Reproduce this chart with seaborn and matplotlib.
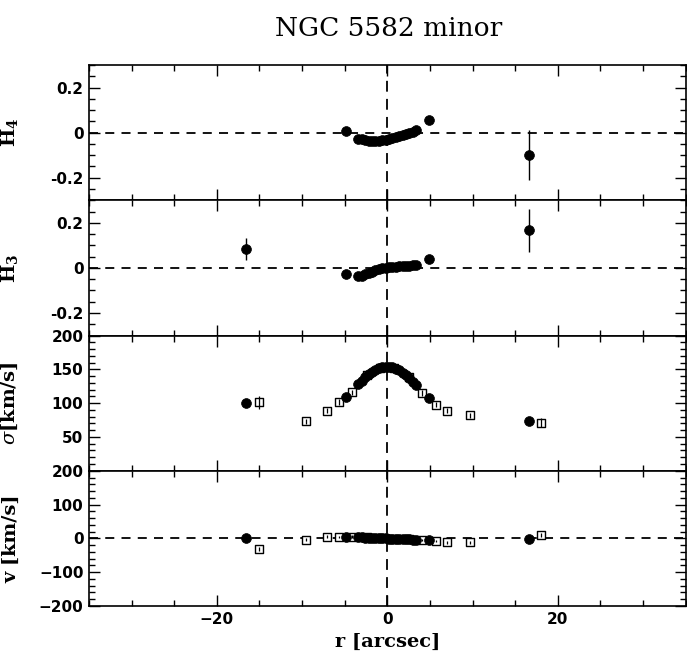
import numpy as np
import pandas as pd
import matplotlib
matplotlib.use("Agg")
import matplotlib.pyplot as plt
from matplotlib.ticker import MultipleLocator, FixedLocator
import seaborn as sns

# Radial positions (arcsec) of the filled-circle (absorption) measurements
r_circ = [-16.6, -4.9, -3.4, -3.0, -2.6, -2.2, -1.8, -1.4, -1.0, -0.6, -0.2,
          0.2, 0.6, 1.0, 1.4, 1.8, 2.2, 2.6, 3.0, 3.4, 4.9, 16.6]
h4_circ = [np.nan, 0.006, -0.027, -0.030, -0.033, -0.035, -0.036, -0.036, -0.035,
           -0.033, -0.031, -0.028, -0.025, -0.021, -0.017, -0.012, -0.007, -0.002,
           0.004, 0.012, 0.055, -0.10]
h4_err = [0, 0.005, 0.004, 0.004, 0.004, 0.004, 0.004, 0.004, 0.004, 0.004, 0.004,
          0.004, 0.004, 0.004, 0.004, 0.004, 0.004, 0.004, 0.004, 0.004, 0.006, 0.11]
h3_circ = [0.083, -0.029, -0.038, -0.034, -0.029, -0.023, -0.017, -0.011, -0.006,
           -0.002, 0.001, 0.003, 0.005, 0.006, 0.007, 0.008, 0.009, 0.010, 0.011,
           0.013, 0.041, 0.167]
h3_err = [0.05, 0.005, 0.004, 0.004, 0.004, 0.004, 0.004, 0.004, 0.004, 0.004, 0.004,
          0.004, 0.004, 0.004, 0.004, 0.004, 0.004, 0.004, 0.004, 0.004, 0.006, 0.095]
sig_circ = [100.5, 108.5, 128, 133, 138, 142.5, 146, 149, 151.5, 153, 154,
            154, 153, 151, 148.5, 145, 141, 137, 132, 127, 107.5, 73]
sig_err = [3, 2, 2, 2, 2, 2, 2, 2, 2, 2, 2, 2, 2, 2, 2, 2, 2, 2, 2, 2, 2, 4]
v_circ = [0, 4, 3, 3, 2, 2, 1, 1, 0, 0, 0, -1, -1, -1, -2, -2, -3, -3, -4, -4, -6, -3]
v_err = [3, 2, 2, 2, 2, 2, 2, 2, 2, 2, 2, 2, 2, 2, 2, 2, 2, 2, 2, 2, 2, 4]

# Radial positions (arcsec) of the open-square measurements
r_sq = [-15.0, -9.5, -7.1, -5.7, -4.1, -2.4, -0.9, 0.8, 2.5, 4.1, 5.7, 7.0, 9.7, 18.0]
sig_sq = [101, 73, 89, 102, 116, 141, 152, 152, 138, 115, 98, 89, 82, 71]
sig_sq_err = [10, 4, 4, 4, 4, 4, 4, 4, 4, 4, 4, 4, 4, 7]
v_sq = [-30, -4, 5, 4, 5, 3, 1, -1, -3, -5, -8, -12, -12, 11]
v_sq_err = [6, 4, 4, 4, 4, 4, 4, 4, 4, 4, 4, 4, 4, 6]

title_text = "NGC 5582 minor"

circ = pd.DataFrame({"r": r_circ, "h4": h4_circ, "h4e": h4_err, "h3": h3_circ,
                     "h3e": h3_err, "sig": sig_circ, "sige": sig_err,
                     "v": v_circ, "ve": v_err})
sq = pd.DataFrame({"r": r_sq, "sig": sig_sq, "sige": sig_sq_err,
                   "v": v_sq, "ve": v_sq_err})

sns.set_style("ticks")
plt.rcParams["font.family"] = ["DejaVu Sans"]
plt.rcParams["mathtext.fontset"] = "dejavuserif"
for key in ("text.color", "axes.labelcolor", "xtick.color", "ytick.color",
            "axes.edgecolor"):
    plt.rcParams[key] = "black"

fig, axes = plt.subplots(4, 1, figsize=(6.87, 6.57), dpi=100, sharex=True)
fig.subplots_adjust(left=0.1295, right=0.998, top=0.901, bottom=0.0776, hspace=0)

dash = (0, (5, 4))
label_font = dict(family="DejaVu Serif", fontsize=14, fontweight="bold")


def draw_circles(ax, col, ecol):
    d = circ.dropna(subset=[col])
    ax.errorbar(d["r"], d[col], yerr=d[ecol], fmt="none", ecolor="black",
                elinewidth=1.0, capsize=0, zorder=6)
    sns.scatterplot(data=d, x="r", y=col, ax=ax, marker="o", s=50,
                    color="black", edgecolor="black", linewidth=0.5, zorder=7,
                    legend=False)


def draw_squares(ax, col, ecol):
    sns.scatterplot(data=sq, x="r", y=col, ax=ax, marker="s", s=26,
                    facecolor="white", edgecolor="black", linewidth=1.0,
                    zorder=4, legend=False)
    ax.errorbar(sq["r"], sq[col], yerr=sq[ecol], fmt="none", ecolor="black",
                elinewidth=0.9, capsize=0, zorder=5)


# H4 panel
ax = axes[0]
draw_circles(ax, "h4", "h4e")
ax.set_ylim(-0.3, 0.3)
ax.yaxis.set_major_locator(FixedLocator([-0.2, 0, 0.2]))
ax.yaxis.set_minor_locator(MultipleLocator(0.05))
ax.set_yticklabels(["-0.2", "0", "0.2"])
ax.axhline(0, color="black", lw=1.3, ls=dash, zorder=2)
ax.set_ylabel(r"H$_\mathbf{4}$", **label_font)

# H3 panel
ax = axes[1]
draw_circles(ax, "h3", "h3e")
ax.set_ylim(-0.3, 0.3)
ax.yaxis.set_major_locator(FixedLocator([-0.2, 0, 0.2]))
ax.yaxis.set_minor_locator(MultipleLocator(0.05))
ax.set_yticklabels(["-0.2", "0", "0.2"])
ax.axhline(0, color="black", lw=1.3, ls=dash, zorder=2)
ax.set_ylabel(r"H$_\mathbf{3}$", **label_font)

# velocity dispersion panel
ax = axes[2]
draw_circles(ax, "sig", "sige")
draw_squares(ax, "sig", "sige")
ax.set_ylim(0, 200)
ax.yaxis.set_major_locator(FixedLocator([50, 100, 150, 200]))
ax.yaxis.set_minor_locator(MultipleLocator(10))
ax.set_ylabel(r"$\sigma$[km/s]", **label_font)

# velocity panel
ax = axes[3]
draw_circles(ax, "v", "ve")
draw_squares(ax, "v", "ve")
ax.set_ylim(-200, 200)
ax.yaxis.set_major_locator(MultipleLocator(100))
ax.yaxis.set_minor_locator(MultipleLocator(20))
ax.axhline(0, color="black", lw=1.3, ls=dash, zorder=2)
ax.set_ylabel("v [km/s]", **label_font)
ax.set_xlabel("r [arcsec]", **label_font)

for ax in axes:
    ax.set_xlim(-35, 35)
    ax.xaxis.set_major_locator(MultipleLocator(20))
    ax.xaxis.set_minor_locator(MultipleLocator(5))
    ax.axvline(0, color="black", lw=1.3, ls=(0, (6, 4)), zorder=2)
    ax.tick_params(which="both", direction="in", top=True, right=True,
                   width=1.0, labelsize=11, pad=4, colors="black")
    ax.tick_params(which="major", length=8)
    ax.tick_params(which="minor", length=4.5)
    for sp in ax.spines.values():
        sp.set_linewidth(1.2)
        sp.set_color("black")
    for lab in ax.get_yticklabels() + ax.get_xticklabels():
        lab.set_fontweight("bold")
    ax.yaxis.set_label_coords(-0.115, 0.5)
    if ax is not axes[-1]:
        ax.set_xlabel("")

axes[-1].xaxis.set_label_coords(0.5, -0.2)
fig.text(0.565, 0.957, title_text, ha="center", va="center",
         family="DejaVu Serif", fontsize=19, color="black")

fig.savefig("out.png", dpi=100)
